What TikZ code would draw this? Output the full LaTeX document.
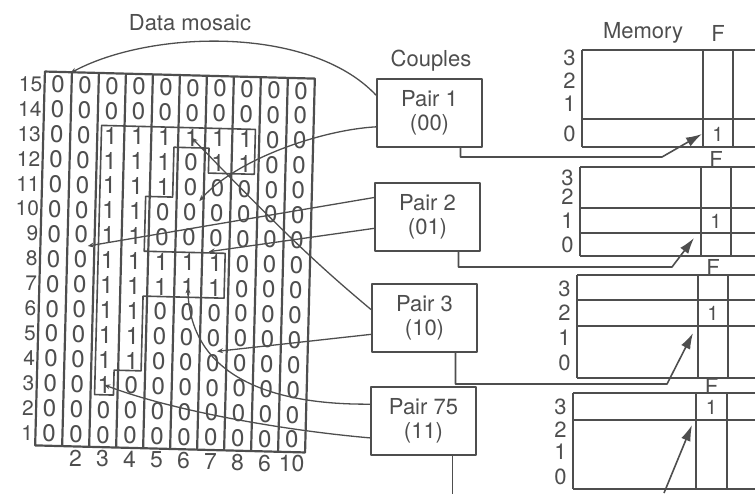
\documentclass[tikz,border=0pt]{standalone}
\usepackage{fontspec}
\setmainfont{TeX Gyre Heros}
\usetikzlibrary{arrows.meta}
\definecolor{ink}{RGB}{78,78,78}
\tikzset{
  cell/.style={minimum width=12pt, minimum height=11pt, inner sep=0pt, font=\fontsize{12}{12}\selectfont},
  rowlab/.style={anchor=east, inner sep=1pt, font=\fontsize{10.5}{12}\selectfont},
  collab/.style={anchor=north, inner sep=1.5pt, font=\fontsize{11.5}{12}\selectfont},
  pairbox/.style={draw, line width=1pt, minimum width=52.5pt, minimum height=34pt, align=center, font=\fontsize{11}{12}\selectfont},
  title/.style={font=\fontsize{11}{12}\selectfont},
  flag/.style={inner sep=0pt, font=\fontsize{10}{12}\selectfont},
  link/.style={line width=0.65pt, -{Stealth[length=3pt,width=2.5pt]}},
  feed/.style={line width=0.8pt, -{Latex[length=8pt,width=5pt]}},
}
\begin{document}
\begin{tikzpicture}[x=0.5pt, y=-0.5pt, color=ink, line join=round]
\useasboundingbox (0,0) rectangle (755,493);
% Data mosaic
\node[title] (mosaic) at (190,23) {Data mosaic};
\begin{scope}[shift={(175,262)}, rotate=-1.5, x=13.5pt, y=12.4667pt, shift={(-5,-7.5)}]
  \draw[line width=1.1pt] (0,0) rectangle (10,15);
  \foreach \i in {1,...,9}
    \draw[line width=1.1pt] (\i,0) -- (\i,15);
  \foreach \row/\bits in {15/{0,0,0,0,0,0,0,0,0,0}, 14/{0,0,0,0,0,0,0,0,0,0},
      13/{0,0,1,1,1,1,1,1,0,0}, 12/{0,0,1,1,1,0,1,1,0,0}, 11/{0,0,1,1,1,0,0,0,0,0},
      10/{0,0,1,1,0,0,0,0,0,0}, 9/{0,0,1,1,0,0,0,0,0,0}, 8/{0,0,1,1,1,1,1,0,0,0},
      7/{0,0,1,1,1,1,1,0,0,0}, 6/{0,0,1,1,0,0,0,0,0,0}, 5/{0,0,1,1,0,0,0,0,0,0},
      4/{0,0,1,1,0,0,0,0,0,0}, 3/{0,0,1,0,0,0,0,0,0,0}, 2/{0,0,0,0,0,0,0,0,0,0},
      1/{0,0,0,0,0,0,0,0,0,0}}
    \foreach \v [count=\col] in \bits
      \node[cell] (c\col-\row) at (\col-0.5,\row-0.5) {\v};
  % row and column numbers
  \foreach \row in {1,...,15}
    \node[rowlab] (r\row) at (0,\row-0.5) {\row};
  \foreach \lab [count=\col from 2] in {2,3,4,5,6,7,8,6,10}
    \node[collab] (k\col) at (\col-0.5,0) {\lab};
  % outline of the ones
  \draw[line width=0.8pt] (2.15,12.9) -- (7.85,12.9) -- (7.85,11.1) -- (6.15,11.1)
    -- (6.15,12.1) -- (4.85,12.1) -- (4.85,10.1) -- (3.85,10.1) -- (3.85,7.9)
    -- (6.85,7.9) -- (6.85,6.1) -- (3.85,6.1) -- (3.85,3.1) -- (2.85,3.1)
    -- (2.85,2.1) -- (2.15,2.1) -- cycle;
\end{scope}
% Couples
\node[title] (couples) at (431,61) {Couples};
\node[pairbox] (pair1) at (429.5,112.5) {Pair 1\\(00)};
\node[pairbox] (pair2) at (427.5,217) {Pair 2\\(01)};
\node[pairbox] (pair3) at (424.5,318) {Pair 3\\(10)};
\node[pairbox] (pair75) at (423.5,420.5) {Pair 75\\(11)};
% Pixels to couples
\draw[link] (pair1.162) .. controls (310,25) and (150,30) .. (c1-15.north east);
\draw[link] (pair1.195) .. controls (320,130) and (235,160) .. (c6-10.50);
\draw[link] (pair2.160) -- (c2-9.-60);
\draw[link] (pair2.192) -- (c7-8.120);
\draw[link] (pair3.171) .. controls (330,275) and (295,245) .. (c6-13.center);
\draw[link] (pair3.197) -- (c7-4.70);
\draw[link] (pair75.163) .. controls (260,405) and (190,370) .. (c6-7.center);
\draw[link] (pair75.198) .. controls (280,430) and (170,410) .. (c3-3.center);
% Memory
\node[title] (memory) at (643,33) {Memory};
\foreach \k/\top/\bot/\lx/\fl/\fr/\divs/\fy/\hy/\ry in {
    1/50/147/582/703/733/{119}/134/33/{58,81,104,134},
    2/167/256/580/701/731/{208,233}/221/159/{178,197,221,245},
    3/275/378/577/698/728/{300,326}/313/267/{289,313,338,363},
    4/393/489/573/696/727/{420}/407/386/{407,430,452,477}} {
  \draw[line width=1pt] (\lx,\top) -- (755,\top) (\lx,\bot) -- (755,\bot)
    (\lx,\top) -- (\lx,\bot) (\fl,\top) -- (\fl,\bot) (\fr,\top) -- (\fr,\bot);
  \foreach \d in \divs
    \draw[line width=1pt] (\lx,\d) -- (755,\d);
  \node[flag] (flag\k) at ({(\fl+\fr)/2},\fy) {1};
  \node[title] (fhead\k) at ({(\fl+\fr)/2},\hy) {F};
  \foreach \y [count=\n] in \ry {
    \pgfmathtruncatemacro{\addr}{4-\n}
    \node[title, anchor=east, inner sep=1pt] (a\k-\addr) at (\lx-4,\y) {\addr};
  }
}
% Couples to memory
\coordinate (tip1) at (702,134);
\coordinate (tip2) at (694,238);
\coordinate (tip3) at (693,333);
\coordinate (tip4) at (692,425);
\coordinate (tail4) at (664,493);
\draw[feed] ([xshift=15.5pt]pair1.south) |- (662,157) -- (tip1);
\draw[feed] ([xshift=15.5pt]pair2.south) |- (672,267) -- (tip2);
\draw[feed] ([xshift=15.5pt]pair3.south) |- (667,384) -- (tip3);
\draw[line width=0.8pt] ([xshift=14.5pt]pair75.south) -- ++(0,40);
\draw[feed] (tail4) -- (tip4);
\end{tikzpicture}
\end{document}
